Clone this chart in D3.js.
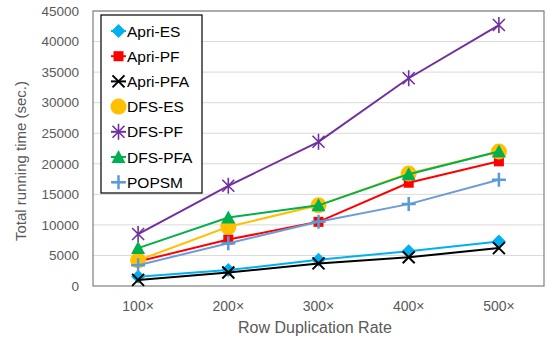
<!DOCTYPE html>
<html>
<head>
<meta charset="utf-8">
<script src="https://cdn.jsdelivr.net/npm/d3@7"></script>
<style>
  body { margin: 0; background: #fff; }
  text { font-family: "Liberation Sans", Arial, sans-serif; }
</style>
</head>
<body>
<svg id="chart" width="548" height="341"></svg>
<script>
var categories = ["100×", "200×", "300×", "400×", "500×"],
    yTicks = [0, 5000, 10000, 15000, 20000, 25000, 30000, 35000, 40000, 45000],
    seriesNames = ["Apri-ES", "Apri-PF", "Apri-PFA", "DFS-ES", "DFS-PF", "DFS-PFA", "POPSM"],
    apriES = [1500, 2600, 4300, 5700, 7300],
    apriPF = [4000, 7600, 10500, 16900, 20400],
    apriPFA = [1000, 2200, 3700, 4700, 6200],
    dfsES = [4200, 9700, 13200, 18400, 22000],
    dfsPF = [8500, 16400, 23600, 34000, 42700],
    dfsPFA = [6200, 11200, 13200, 18300, 22000],
    popsm = [3400, 7000, 10500, 13400, 17400];

var colors = ["#00b0f0", "#ff0000", "#000000", "#ffc000", "#7030a0", "#00b050", "#5b9bd5"],
    lineColors = ["#00b0f0", "#ff0000", "#000000", "#ffc000", "#7030a0", "#00b050", "#6d9bd8"],
    shapes = ["diamond", "square", "x", "circle", "asterisk", "triangle", "plus"];

var values = [apriES, apriPF, apriPFA, dfsES, dfsPF, dfsPFA, popsm];
var series = seriesNames.map(function(n, i) {
    return {name: n, values: values[i], color: colors[i], line: lineColors[i], shape: shapes[i]};
});

var svg = d3.select("#chart"),
    margin = {top: 11, right: 4, bottom: 55, left: 93},
    width = 548 - margin.left - margin.right,
    height = 341 - margin.top - margin.bottom,
    g = svg.append("g").attr("transform", "translate(" + margin.left + "," + margin.top + ")");

var x = d3.scaleBand().domain(categories).range([0, width]),
    y = d3.scaleLinear().domain([0, 45000]).range([height, 0]);

// gridlines
g.append("g")
    .selectAll("line")
    .data(yTicks.slice(1))
    .enter().append("line")
    .attr("x1", 0).attr("x2", width)
    .attr("y1", function(d) { return y(d); })
    .attr("y2", function(d) { return y(d); })
    .attr("stroke", "#d9d9d9")
    .attr("stroke-width", 1);

// plot border
g.append("rect")
    .attr("x", 0).attr("y", 0)
    .attr("width", width).attr("height", height)
    .attr("fill", "none")
    .attr("stroke", "#7f7f7f")
    .attr("stroke-width", 1.2);

var yAxis = g.append("g")
    .call(d3.axisLeft(y).tickValues(yTicks).tickSize(0).tickPadding(14).tickFormat(d3.format("d")));
yAxis.select(".domain").remove();
yAxis.selectAll("text")
    .attr("fill", "#595959")
    .style("font-size", "13.5px");

var xAxis = g.append("g")
    .attr("transform", "translate(0," + height + ")")
    .call(d3.axisBottom(x).tickSize(0).tickPadding(15));
xAxis.select(".domain").remove();
xAxis.selectAll("text")
    .attr("fill", "#595959")
    .style("font-size", "14px");

svg.append("text")
    .attr("transform", "translate(26,161) rotate(-90)")
    .attr("text-anchor", "middle")
    .attr("fill", "#595959")
    .style("font-size", "15px")
    .text("Total running time (sec.)");

svg.append("text")
    .attr("x", 315).attr("y", 333)
    .attr("text-anchor", "middle")
    .attr("fill", "#595959")
    .style("font-size", "16px")
    .text("Row Duplication Rate");

function drawMarker(sel, s) {
    var c = s.color;
    if (s.shape == "diamond") {
        sel.append("path").attr("d", "M0,-7L7,0L0,7L-7,0Z").attr("fill", c);
    } else if (s.shape == "square") {
        sel.append("rect").attr("x", -5).attr("y", -5).attr("width", 10).attr("height", 10).attr("fill", c);
    } else if (s.shape == "x") {
        sel.append("path").attr("d", "M-6,-6L6,6M-6,6L6,-6").attr("stroke", c).attr("stroke-width", 2);
    } else if (s.shape == "circle") {
        sel.append("circle").attr("r", 8).attr("fill", c);
    } else if (s.shape == "asterisk") {
        sel.append("path").attr("d", "M-6,-6L6,6M-6,6L6,-6M0,-8L0,8").attr("stroke", c).attr("stroke-width", 1.6);
    } else if (s.shape == "triangle") {
        sel.append("path").attr("d", "M0,-7L7,6L-7,6Z").attr("fill", c);
    } else if (s.shape == "plus") {
        sel.append("path").attr("d", "M-7,0L7,0M0,-7L0,7").attr("stroke", c).attr("stroke-width", 2.5);
    }
}

var line = d3.line()
    .x(function(d, i) { return x(categories[i]) + x.bandwidth() / 2; })
    .y(function(d) { return y(d); });

series.forEach(function(s) {
    var sg = g.append("g");
    sg.append("path")
        .datum(s.values)
        .attr("fill", "none")
        .attr("stroke", s.line)
        .attr("stroke-width", 2)
        .attr("d", line);
    s.values.forEach(function(v, i) {
        var m = sg.append("g")
            .attr("transform", "translate(" + (x(categories[i]) + x.bandwidth() / 2) + "," + y(v) + ")");
        drawMarker(m, s);
    });
});

// legend
var legend = svg.append("g");
legend.append("rect")
    .attr("x", 101).attr("y", 15)
    .attr("width", 101).attr("height", 178)
    .attr("fill", "#fff")
    .attr("stroke", "#000")
    .attr("stroke-width", 1.2);

series.forEach(function(s, i) {
    var ly = 31 + i * 25.2,
        item = legend.append("g").attr("transform", "translate(0," + ly + ")");
    item.append("line")
        .attr("x1", 111).attr("x2", 126)
        .attr("stroke", s.line).attr("stroke-width", 2);
    var m = item.append("g").attr("transform", "translate(118.5,0)");
    drawMarker(m, s);
    item.append("text")
        .attr("x", 127).attr("y", 0)
        .attr("dy", "0.36em")
        .attr("fill", "#000")
        .style("font-size", "15.5px")
        .text(s.name);
});
</script>
</body>
</html>
